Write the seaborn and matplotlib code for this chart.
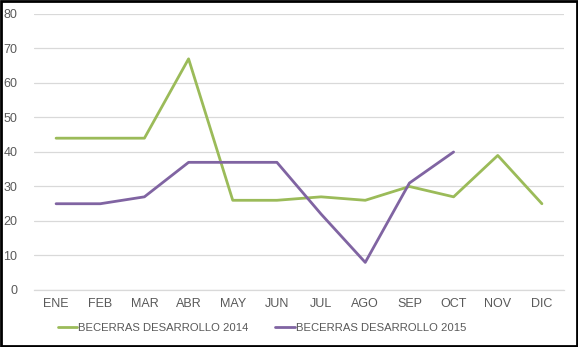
import matplotlib
matplotlib.use("Agg")
import matplotlib.pyplot as plt
import seaborn as sns
import pandas as pd
from matplotlib.patches import Rectangle
from matplotlib.lines import Line2D

months = ["ENE", "FEB", "MAR", "ABR", "MAY", "JUN", "JUL", "AGO", "SEP", "OCT", "NOV", "DIC"]
vals_2014 = [44, 44, 44, 67, 26, 26, 27, 26, 30, 27, 39, 25]
vals_2015 = [25, 25, 27, 37, 37, 37, 22, 8, 31, 40]
label_2014 = "BECERRAS DESARROLLO 2014"
label_2015 = "BECERRAS DESARROLLO 2015"
yticks = [0, 10, 20, 30, 40, 50, 60, 70, 80]

sns.set_theme(style="white")
plt.rcParams['font.family'] = ['Liberation Sans', 'DejaVu Sans']

df = pd.concat([
    pd.DataFrame({"x": list(range(len(vals_2014))), "y": vals_2014, "serie": label_2014}),
    pd.DataFrame({"x": list(range(len(vals_2015))), "y": vals_2015, "serie": label_2015}),
])

fig = plt.figure(figsize=(5.78, 3.47), dpi=100)
ax = fig.add_axes([0.0588, 0.1643, 0.9170, 0.7954])

sns.lineplot(data=df, x="x", y="y", hue="serie",
             palette={label_2014: "#9BBB59", label_2015: "#8064A2"},
             linewidth=2.0, ax=ax, legend=False)

ax.set_xlim(-0.5, 11.5)
ax.set_ylim(0, 80)
ax.set_yticks(yticks)
ax.set_xticks(range(len(months)))
ax.set_xticklabels(months)
ax.set_xlabel("")
ax.set_ylabel("")
ax.yaxis.grid(True, color="#D9D9D9", linewidth=0.9)
ax.xaxis.grid(False)
for s in ["top", "right", "left"]:
    ax.spines[s].set_visible(False)
ax.spines["bottom"].set_color("#D9D9D9")
ax.spines["bottom"].set_linewidth(0.9)
ax.tick_params(axis="both", length=0, labelsize=9, colors="#595959")
ax.tick_params(axis="x", pad=6)
ax.tick_params(axis="y", pad=12)
ax.set_axisbelow(True)

handles = [Line2D([], [], color="#9BBB59", lw=2), Line2D([], [], color="#8064A2", lw=2)]
fig.legend(handles, [label_2014, label_2015], loc="center", bbox_to_anchor=(0.453, 0.056),
           ncol=2, frameon=False, fontsize=8.1, labelcolor="#595959",
           handlelength=1.75, handletextpad=0.05, columnspacing=2.4)

fig.patches.append(Rectangle((0.002, 0.003), 0.996, 0.994, transform=fig.transFigure,
                             fill=False, edgecolor="black", linewidth=2.0))

fig.savefig("out.png", dpi=100)
